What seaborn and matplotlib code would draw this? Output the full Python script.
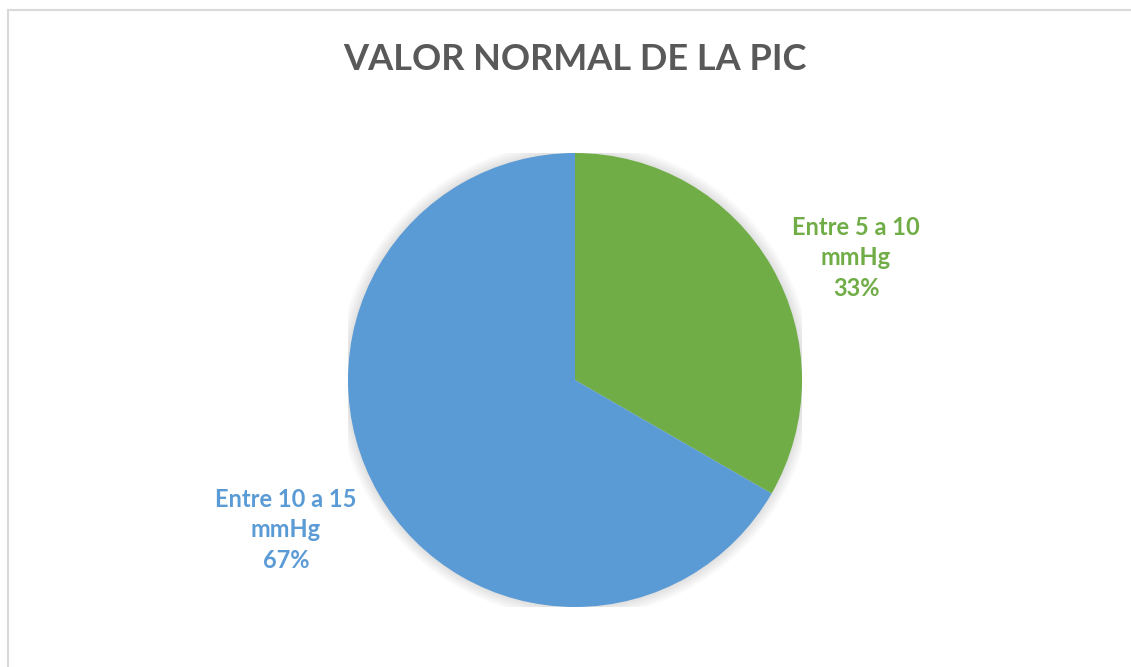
import numpy as np
import matplotlib
matplotlib.use("Agg")
import matplotlib.pyplot as plt
from matplotlib.patches import Rectangle, Circle
import seaborn as sns

# datos del gráfico
categorias = ["Entre 5 a 10\nmmHg", "Entre 10 a 15\nmmHg"]
valores = [1, 2]
colores = ["#70AD47", "#5B9BD5"]
titulo = "VALOR NORMAL DE LA PIC"

sns.set_theme(style="white")
plt.rcParams['font.family'] = ['Lato', 'DejaVu Sans']

W, H = 1131, 667
fig = plt.figure(figsize=(W / 100, H / 100), dpi=100)

# marco gris claro (se sale por la derecha y por abajo)
fig.patches.append(Rectangle((8 / W, -0.1), 1.2, (H - 10) / H + 0.1,
                             transform=fig.transFigure, fill=False,
                             edgecolor="#D9D9D9", linewidth=1.5))

# ejes del pastel: centro (575, 380), radio 227 px
cx, cy, r = 575, 380, 227
ax = fig.add_axes([(cx - r) / W, (H - cy - r) / H, 2 * r / W, 2 * r / H])

# sombra suave
for k in range(10):
    ax.add_patch(Circle((0, 0), 1 + 0.005 * (k + 1), color="black",
                        alpha=0.012, lw=0, zorder=0))

wedges, _ = ax.pie(valores, colors=colores, startangle=90, counterclock=False,
                   radius=1, wedgeprops=dict(linewidth=0),
                   labels=None)
ax.set_xlim(-1, 1)
ax.set_ylim(-1, 1)
ax.set_aspect("equal")
ax.axis("off")

total = sum(valores)
distancias = [1.35, 1.435]
desvios = [6.5, 2.6]
for w, cat, v, col, d, dv in zip(wedges, categorias, valores, colores,
                                 distancias, desvios):
    ang = np.deg2rad((w.theta1 + w.theta2) / 2 - dv)
    ax.text(d * np.cos(ang), d * np.sin(ang), f"{cat}\n{v / total:.0%}",
            ha="center", va="center", color=col, fontsize=17,
            fontweight="bold", linespacing=1.4, clip_on=False)

fig.text(575 / W, 1 - 60 / H, titulo, ha="center", va="center",
         fontsize=26, fontweight="bold", color="#595959")

fig.savefig("out.png", dpi=100)
